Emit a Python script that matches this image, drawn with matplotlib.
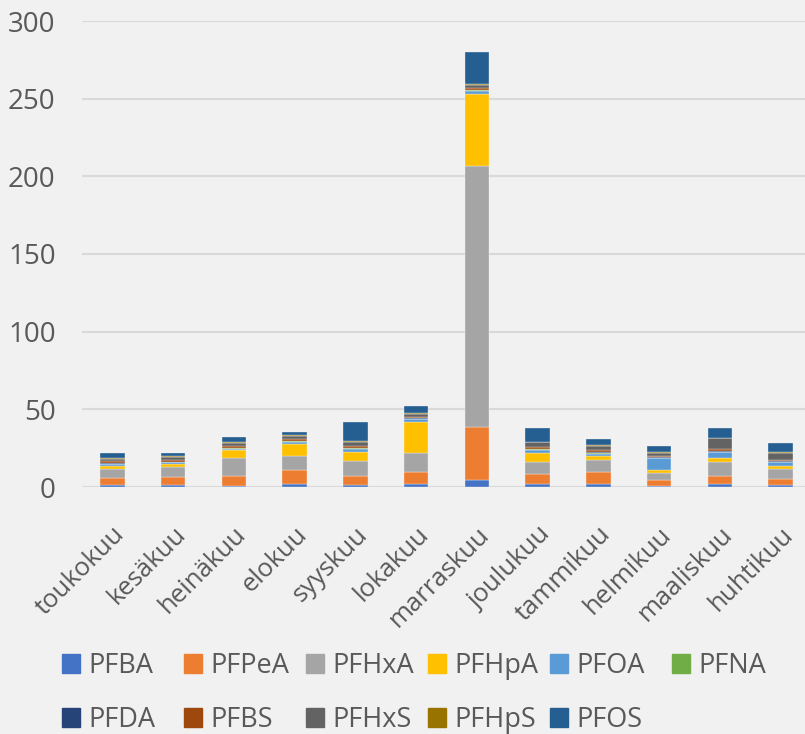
import matplotlib
matplotlib.use('Agg')
import matplotlib.pyplot as plt
from matplotlib.patches import Patch
import numpy as np

months = ['toukokuu', 'kesäkuu', 'heinäkuu', 'elokuu', 'syyskuu', 'lokakuu',
          'marraskuu', 'joulukuu', 'tammikuu', 'helmikuu', 'maaliskuu', 'huhtikuu']

PFBA = [1.3, 1.3, 0.9, 1.9, 1.5, 1.9, 4.3, 1.9, 1.7, 0.9, 1.7, 1.5]
PFPeA = [4.5, 5.4, 6.0, 8.8, 5.8, 7.9, 34.6, 6.4, 8.2, 3.4, 5.2, 3.9]
PFHxA = [6.0, 6.4, 12.0, 9.2, 9.2, 11.8, 167.8, 7.7, 7.5, 4.7, 9.0, 6.4]
PFHpA = [1.7, 1.7, 4.7, 7.7, 6.2, 20.2, 46.2, 6.2, 2.4, 2.1, 3.0, 1.7]
PFOA = [1.3, 1.1, 1.1, 1.5, 1.7, 1.7, 2.1, 1.7, 1.3, 7.5, 3.4, 2.6]
PFNA = [0.3, 0.3, 0.3, 0.3, 0.4, 0.4, 0.4, 0.6, 1.1, 0.3, 0.4, 0.3]
PFDA = [0.2, 0.2, 0.2, 0.2, 0.3, 0.3, 0.3, 0.2, 0.2, 0.2, 0.2, 0.2]
PFBS = [1.3, 1.3, 1.1, 1.1, 1.3, 1.1, 1.1, 1.3, 1.1, 0.6, 1.5, 1.1]
PFHxS = [1.5, 1.7, 2.1, 2.1, 2.8, 1.7, 2.1, 2.8, 3.0, 2.4, 6.9, 4.5]
PFHpS = [0.5, 0.4, 0.4, 0.4, 0.4, 0.4, 0.5, 0.4, 0.4, 0.4, 0.4, 0.4]
PFOS = [3.4, 2.1, 3.4, 2.1, 12.0, 4.9, 20.4, 8.8, 4.3, 4.1, 6.0, 5.8]

series_names = ['PFBA', 'PFPeA', 'PFHxA', 'PFHpA', 'PFOA', 'PFNA',
                'PFDA', 'PFBS', 'PFHxS', 'PFHpS', 'PFOS']
series_values = [PFBA, PFPeA, PFHxA, PFHpA, PFOA, PFNA,
                 PFDA, PFBS, PFHxS, PFHpS, PFOS]
colors = ['#4472C4', '#ED7D31', '#A5A5A5', '#FFC000', '#5B9BD5', '#70AD47',
          '#264478', '#9E480E', '#636363', '#997300', '#255E91']

bg = '#F0F1F0'
txt = '#595959'
plt.rcParams['font.family'] = ['Open Sans', 'DejaVu Sans']

W, H = 805, 734
fig = plt.figure(figsize=(W / 100, H / 100), dpi=100, facecolor=bg)
# axes placed in pixel terms (plot area runs slightly past the right edge)
ax = fig.add_axes([82 / W, (H - 487) / H, 729 / W, 466 / H])
ax.set_facecolor(bg)

x = np.arange(len(months))
bottom = np.zeros(len(months))
for name, vals, c in zip(series_names, series_values, colors):
    ax.bar(x, vals, width=0.40, bottom=bottom, color=c, label=name,
           edgecolor='#F4F6F5', linewidth=0.25, zorder=3)
    bottom += np.array(vals)

ax.set_xlim(-0.5, len(months) - 0.5)
ax.set_ylim(0, 300)
ax.set_yticks(range(0, 301, 50))
ax.yaxis.grid(True, color='#D9D9D9', linewidth=1.5, zorder=0)
ax.set_axisbelow(True)
for s in ax.spines.values():
    s.set_visible(False)
ax.tick_params(axis='both', length=0, colors=txt)
ax.tick_params(axis='y', pad=19, labelsize=20)
ax.set_xticks(x)
ax.set_xticklabels(months, rotation=45, ha='right', rotation_mode='anchor')
ax.tick_params(axis='x', pad=25, labelsize=18.5)

# legend: one entry per slot so columns are evenly spaced like the original
for i, (name, c) in enumerate(zip(series_names, colors)):
    col, row = i % 6, i // 6
    xp = (62 + col * 122) / W
    yp = 1 - (666 + row * 54) / H
    fig.legend([Patch(color=c)], [name], loc='center left',
               bbox_to_anchor=(xp, yp), frameon=False, fontsize=19.5,
               handlelength=0.66, handleheight=0.66, handletextpad=0.3,
               borderpad=0, borderaxespad=0, labelcolor=txt)

fig.savefig('out.png', dpi=100, facecolor=bg)
